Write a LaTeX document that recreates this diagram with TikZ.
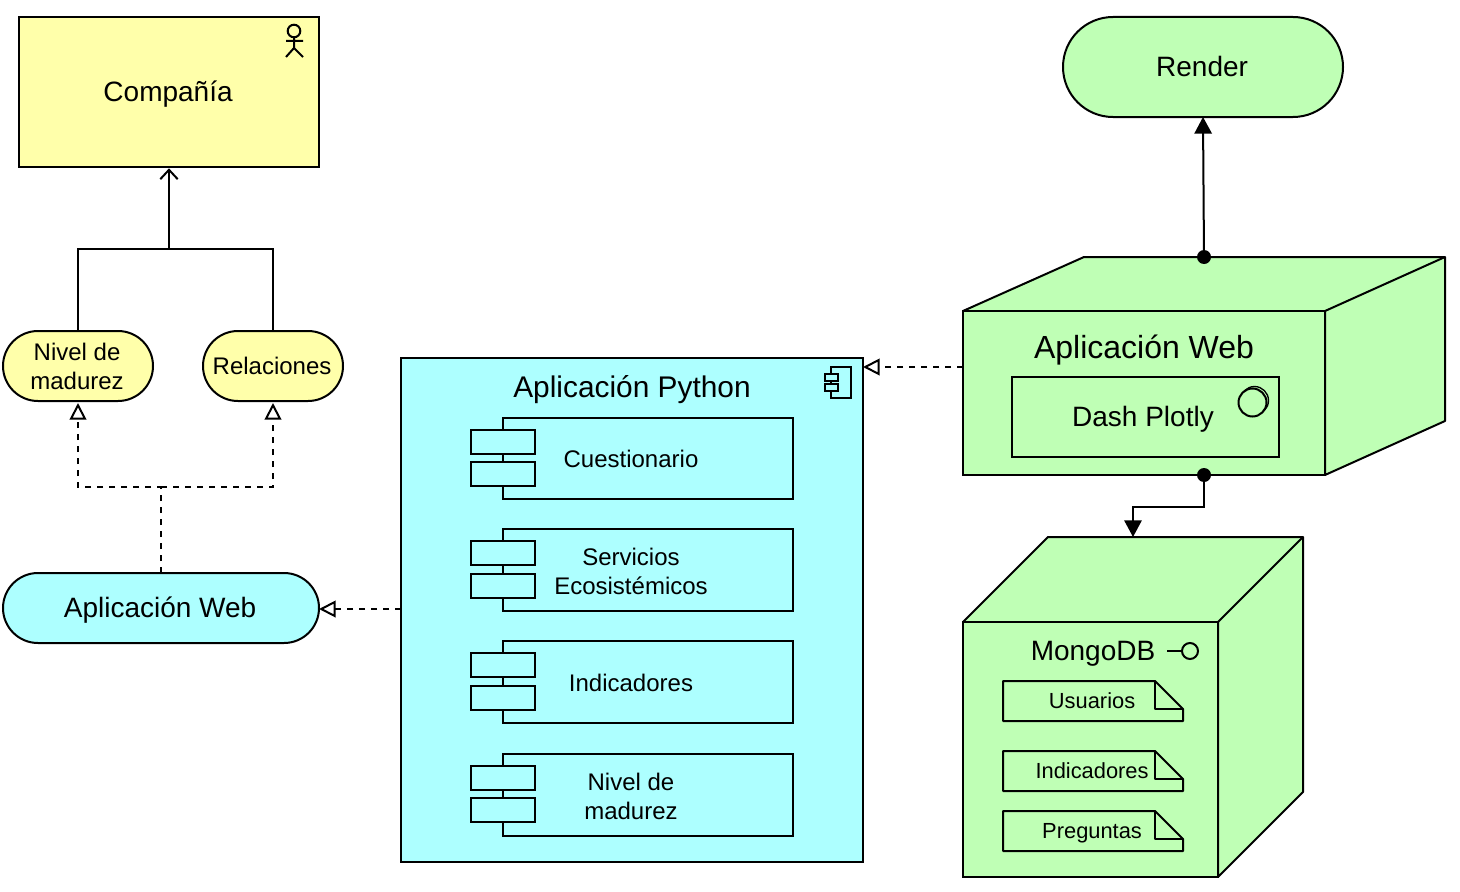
\documentclass[tikz,border=0pt]{standalone}
\usepackage{fontspec}
\setmainfont{Liberation Sans}
\usetikzlibrary{arrows.meta,positioning,shapes.misc}
\definecolor{bizyellow}{HTML}{FFFFAA}
\definecolor{appcyan}{HTML}{ADFFFF}
\definecolor{techgreen}{HTML}{BFFFB5}
\newcommand{\notecorner}[1]{\draw[line join=round] (#1.north west) -- ([xshift=-21pt]#1.north east) -- ([yshift=-6pt]#1.east) -- (#1.south east) -- (#1.south west) -- cycle;
  \draw[line join=round] ([xshift=-21pt]#1.north east) -- ++(0,28) -- ++(28,0);}
\newcommand{\tnudge}{\hspace*{1.4pt}}
\tikzset{
  fsmall/.style={font=\fontsize{16.4}{20}\selectfont},
  fmid/.style={font=\fontsize{18}{21.7}\selectfont},
  fbig/.style={font=\fontsize{21}{25}\selectfont},
  oneline/.style={text height=#1*0.9pt,text depth=#1*0.22pt},
  blockbox/.style={draw,rectangle,fill=#1},
  pill/.style={draw,rounded rectangle,fill=#1,minimum height=52.5pt},
  compbody/.style={draw,fill=appcyan,minimum width=217.5pt,minimum height=61.5pt},
  comptab/.style={draw,fill=appcyan,minimum width=48pt,minimum height=18pt},
  docnote/.style={fsmall,oneline=16.4,minimum width=135pt,minimum height=30pt},
  junction/.style={circle,fill=black,inner sep=0pt,minimum size=10.5pt},
  realizes/.style={dash pattern=on 4.5pt off 4.5pt,-{Triangle[open,length=12.5pt,width=12.5pt,fill=white]}},
  assigns/.style={-{Triangle[length=12.5pt,width=13pt]}},
  flows/.style={-{Straight Barb[length=7pt,width=13pt]}}
}
\begin{document}
\begin{tikzpicture}[x=0.75pt,y=-0.75pt,line width=1.5pt,every node/.style={fbig,align=center,inner sep=0pt,outer sep=0pt}]
\useasboundingbox (0,0) rectangle (1460,892);
% business layer
\node[blockbox=bizyellow,oneline=21,minimum width=225pt,minimum height=112.5pt] (compania) at (169,92) {Compañía\tnudge};
\node[pill=bizyellow,fmid,minimum width=112.5pt] (nivel) at (78,366) {Nivel de\tnudge\\madurez\tnudge};
\node[pill=bizyellow,fmid,oneline=18,minimum width=105pt,right=37.5pt of nivel] (relaciones) {Relaciones\tnudge};
\node[pill=appcyan,oneline=21,minimum width=237pt] (webleft) at (161,608) {Aplicación Web\tnudge};
\coordinate (join) at (169,249);
\coordinate (split) at (161,487);
\draw (294,31) circle (6.3);
\draw (294,37) -- (294,48) (286,41) -- (303,41) (286,57) -- (294,48) -- (303,57);
% python application
\node[blockbox=appcyan,minimum width=346.5pt,minimum height=378pt] (pyapp) at (632,610) {};
\node[font=\fontsize{22.4}{26}\selectfont,oneline=22.4] (pytitle) at (632,387) {Aplicación Python};
\draw (831,367) rectangle (851,398);
\draw[fill=appcyan] (825,374) rectangle (838,381) (825,384) rectangle (838,391);
\node[compbody,minimum height=60.75pt] (cuest) at (648,458.5) {};
\node[comptab,below right=9pt and -24pt of cuest.north west] (cuesta) {};
\node[comptab,below=6pt of cuesta] (cuestb) {};
\node[fmid] (cuesttxt) at (631,458.5) {Cuestionario};
\node[compbody,below=22.5pt of cuest] (serv) {};
\node[comptab,below right=9pt and -24pt of serv.north west] (serva) {};
\node[comptab,below=6.5pt of serva] (servb) {};
\node[fmid] (servtxt) at (631,571) {Servicios\\Ecosistémicos};
\node[compbody,below=22.5pt of serv] (indic) {};
\node[comptab,below right=9pt and -24pt of indic.north west] (indica) {};
\node[comptab,below=6.5pt of indica] (indicb) {};
\node[fmid] (indictxt) at (631,682.5) {Indicadores};
\node[compbody,below=23pt of indic] (mad) {};
\node[comptab,below right=9pt and -24pt of mad.north west] (mada) {};
\node[comptab,below=6.5pt of mada] (madb) {};
\node[fmid] (madtxt) at (631,796) {Nivel de\\madurez};
% technology layer
\node[pill=techgreen,oneline=21,minimum width=210pt,minimum height=75pt] (render) at (1203,67) {Render\tnudge};
\draw[fill=techgreen,line join=round] (963,311) -- ++(121,-54) -- ++(361,0) -- ++(0,164) -- (1325,475) -- (1325,311) -- cycle;
\node[blockbox=techgreen,minimum width=271.5pt,minimum height=123pt] (appweb) at (1144,393) {};
\draw (1325,311) -- (1445,257);
\node[font=\fontsize{24}{28}\selectfont,oneline=24] (appwebtxt) at (1144,348) {Aplicación Web};
\node[blockbox=techgreen,minimum width=200pt,minimum height=60pt] (dash) at (1145.5,417) {};
\node[oneline=21] (dashtxt) at (1143,417) {Dash Plotly};
\draw[line width=1pt] (1254.5,400.5) circle (14);
\draw[fill=techgreen] (1252.5,402.5) circle (14);
\node[junction] (webtop) at (1204,257) {};
\node[junction] (webbot) at (1204,475) {};
\draw[fill=techgreen,line join=round] (963,622) -- ++(85,-85) -- ++(255,0) -- ++(0,255) -- (1218,877) -- (1218,622) -- cycle;
\node[blockbox=techgreen,minimum width=191.25pt,minimum height=191.25pt] (mongo) at (1090.5,749.5) {};
\draw (1218,622) -- (1303,537);
\node[oneline=21] (mongotxt) at (1093,651) {MongoDB};
\draw (1167,651) -- (1182,651);
\draw (1190,651) circle (8);
\node[docnote] (usuarios) at (1093,701) {Usuarios\tnudge};
\notecorner{usuarios}
\node[docnote] (indicdoc) at (1093,771) {Indicadores\tnudge};
\notecorner{indicdoc}
\node[docnote] (preguntas) at (1093,831) {Preguntas\tnudge};
\notecorner{preguntas}
% connectors
\draw (relaciones.north) |- (join);
\draw[flows,shorten >=1pt] (nivel.north) |- (join) -- (compania.south);
\draw[realizes,shorten >=1.5pt] (webleft.north) -- (split) -| (nivel.south);
\draw[realizes,shorten >=1.5pt] (split) -| (relaciones.south);
\draw[realizes] (pyapp.west |- 0,609) -- (webleft.east |- 0,609);
\draw[realizes] (appweb.west |- 0,367) -- (pyapp.east |- 0,367);
\draw[assigns] (webtop) -- (render.south);
\coordinate (mongotop) at (1133,537);
\draw[assigns] (webbot) |- (1168,507) -| (mongotop);
\end{tikzpicture}
\end{document}
